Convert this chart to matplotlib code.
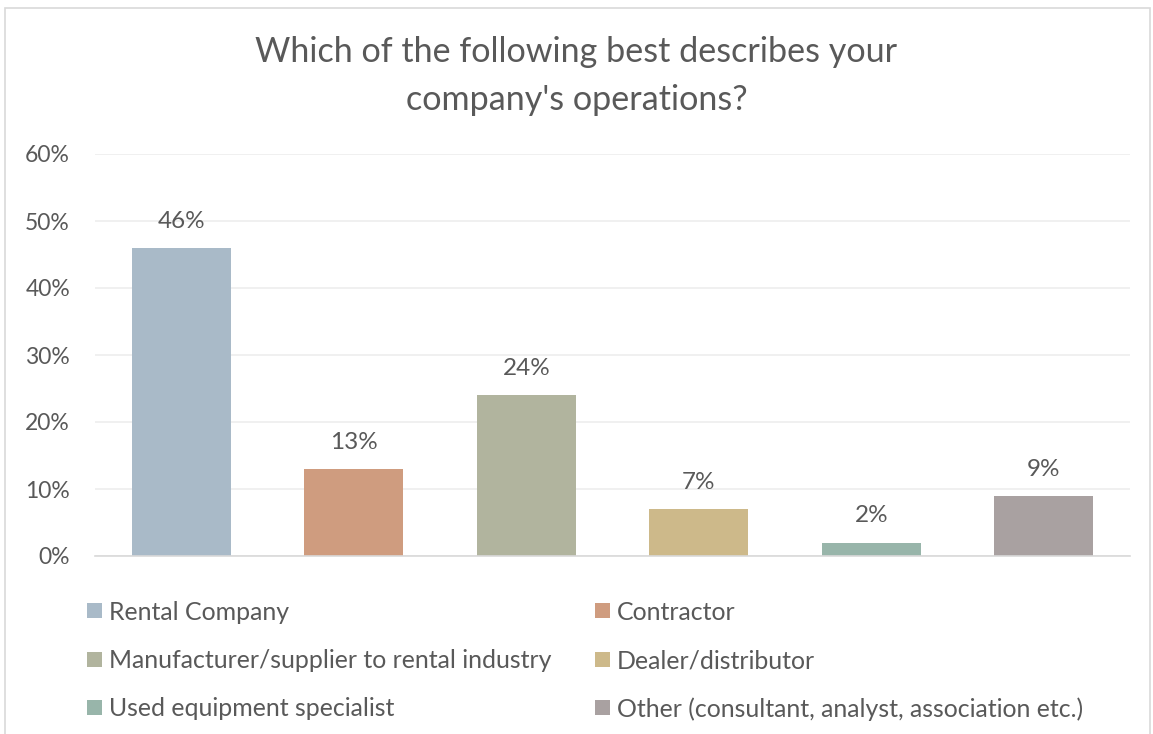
#!/usr/bin/env python3
"""Bar chart: company operations survey."""

import matplotlib
matplotlib.use("Agg")
import matplotlib.pyplot as plt
from matplotlib.patches import Rectangle
from matplotlib.ticker import FuncFormatter

categories = [
    "Rental Company",
    "Contractor",
    "Manufacturer/supplier to rental industry",
    "Dealer/distributor",
    "Used equipment specialist",
    "Other (consultant, analyst, association etc.)",
]
shares = [46, 13, 24, 7, 2, 9]
colors = ["#A9BAC8", "#CF9C7F", "#B1B49E", "#CDB98A", "#98B5AA", "#A9A1A1"]
y_ticks = [0, 10, 20, 30, 40, 50, 60]

TEXT = "#595959"
plt.rcParams["font.family"] = ["Lato", "DejaVu Sans"]

W, H = 1153, 734
fig = plt.figure(figsize=(W / 100, H / 100), dpi=100)
ax = fig.add_axes([95 / W, 1 - 556 / H, (1130 - 95) / W, (556 - 154) / H])

x = list(range(len(categories)))
bars = ax.bar(x, shares, width=0.575, color=colors, zorder=2)
for xi, v in zip(x, shares):
    ax.text(xi, v + 3.0, f"{v}%", ha="center", va="baseline", fontsize=17.5, color=TEXT)

ax.set_xlim(-0.5, len(categories) - 0.5)
ax.set_ylim(0, 60)
ax.set_yticks(y_ticks)
ax.yaxis.set_major_formatter(FuncFormatter(lambda v, _: f"{v:.0f}%"))
ax.tick_params(axis="y", length=0, labelsize=16.5, labelcolor=TEXT, pad=18)
ax.set_xticks([])
ax.grid(axis="y", color="#EEEEEE", linewidth=1.2, zorder=0)
for side in ("top", "right", "left"):
    ax.spines[side].set_visible(False)
ax.spines["bottom"].set_color("#D9D9D9")
ax.spines["bottom"].set_linewidth(1.2)

fig.text(0.5, 1 - 52 / H, "Which of the following best describes your", ha="center", va="center",
         fontsize=24.6, color=TEXT)
fig.text(0.5, 1 - 100 / H, "company's operations?", ha="center", va="center",
         fontsize=24.6, color=TEXT)

# legend: two columns, row-major, square swatches
col_x = [87, 595]
row_y = [610, 659, 707]
sw = 15
for i, (label, c) in enumerate(zip(categories, colors)):
    cx = col_x[i % 2]
    cy = row_y[i // 2]
    fig.add_artist(Rectangle((cx / W, 1 - (cy + sw / 2) / H), sw / W, sw / H,
                             transform=fig.transFigure, facecolor=c, edgecolor="none"))
    fig.text((cx + sw + 7) / W, 1 - cy / H, label, ha="left", va="center_baseline",
             fontsize=17.9, color=TEXT)

# chart border
fig.add_artist(Rectangle((5 / W, -0.01), (1150 - 5) / W, 1 - 8 / H + 0.01,
                         transform=fig.transFigure, fill=False, edgecolor="#D9D9D9", linewidth=1.2))

fig.savefig("out.png", dpi=100)
